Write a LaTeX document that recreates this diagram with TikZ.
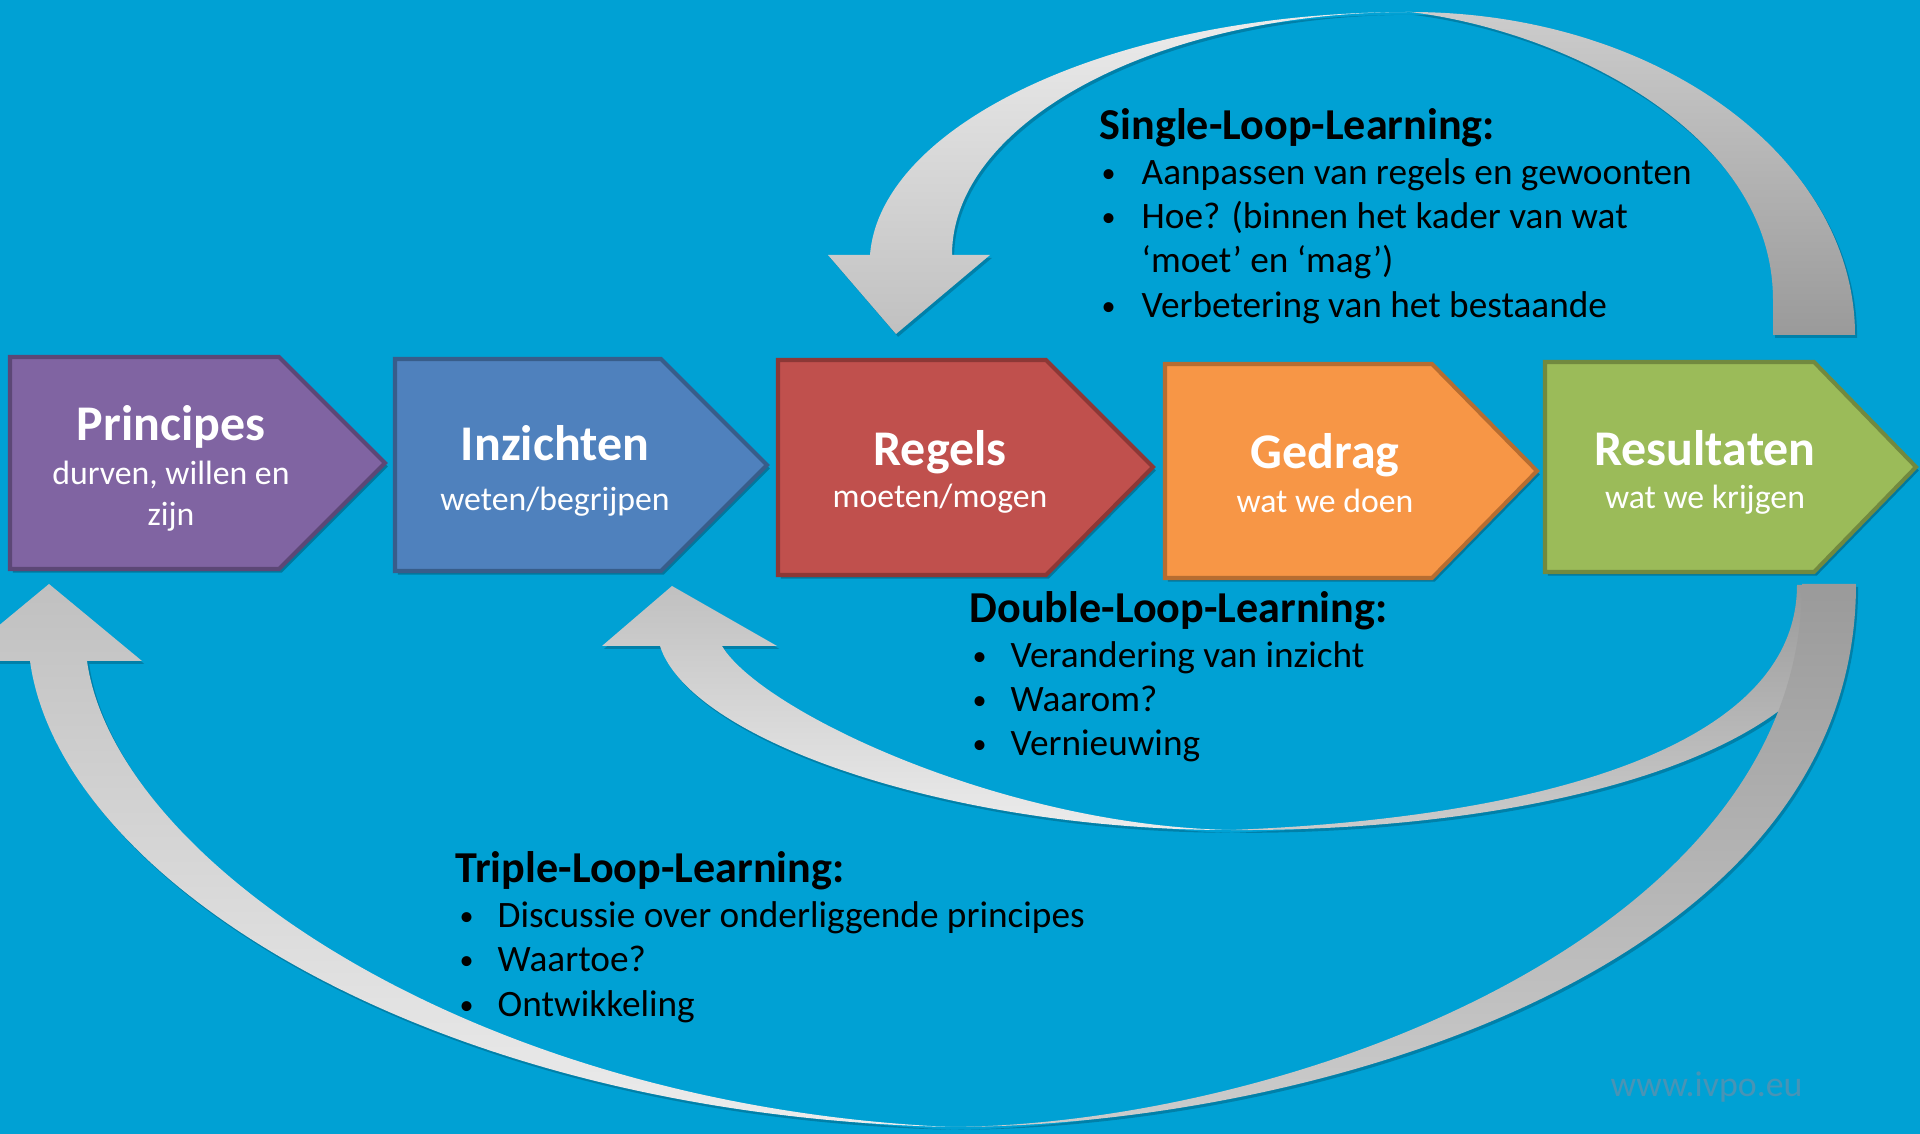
\documentclass[tikz,border=0pt]{standalone}
\usepackage{fontspec}
\setmainfont{Carlito}
\usetikzlibrary{shadows}
\definecolor{bgblue}{RGB}{0,161,212}
\definecolor{pfill}{RGB}{128,100,162}\definecolor{pline}{RGB}{92,71,118}
\definecolor{bfill}{RGB}{79,129,189}\definecolor{bline}{RGB}{56,93,138}
\definecolor{rfill}{RGB}{192,80,77}\definecolor{rline}{RGB}{140,56,54}
\definecolor{ofill}{RGB}{247,150,70}\definecolor{oline}{RGB}{182,109,49}
\definecolor{gfill}{RGB}{155,187,89}\definecolor{gline}{RGB}{113,137,63}
\definecolor{arrlight}{RGB}{236,236,236}
\definecolor{arrmid}{RGB}{192,192,192}
\definecolor{arrdarkA}{RGB}{204,204,204}
\definecolor{arrdarkB}{RGB}{154,154,154}
\definecolor{wmark}{RGB}{72,148,182}
\tikzset{
  chev/.style={line width=1.15pt, line join=miter,
    drop shadow={shadow xshift=0.8pt, shadow yshift=-1pt, opacity=0.25, fill=black}},
  ttl/.style={text=white, font=\bfseries\fontsize{14.2pt}{17pt}\selectfont, anchor=base, inner sep=0pt},
  sub/.style={text=white, font=\fontsize{9.6pt}{11.5pt}\selectfont, anchor=base, inner sep=0pt},
  lhead/.style={text=black, font=\bfseries\fontsize{12.55pt}{15pt}\selectfont, anchor=base west, inner sep=0pt},
  ltext/.style={text=black, font=\fontsize{10.6pt}{13pt}\selectfont, anchor=base west, inner sep=0pt},
  lbul/.style={text=black, font=\fontsize{8pt}{10pt}\selectfont, anchor=base west, inner sep=0pt},
  arrowpart/.style={draw=none,
    drop shadow={shadow xshift=0.6pt, shadow yshift=-0.8pt, opacity=0.2, fill=black}}
}
\newcommand{\bul}{\raisebox{0.6pt}{•}}
\begin{document}
\begin{tikzpicture}[x=0.01cm,y=-0.01cm]
\useasboundingbox (0,0) rectangle (1920,1134);
\fill[bgblue] (0,0) rectangle (1920,1134);
\begin{scope}
\clip (0,0) rectangle (1920,1134);
% Single loop (top)
\path[arrowpart, top color=arrlight, bottom color=arrmid]
  (896,334) -- (828,255) -- (870,255)
  .. controls (880,125) and (1112,12) .. (1410,12)
  .. controls (1157,12) and (952,122) .. (952,255)
  -- (990,255) -- cycle;
\path[arrowpart, top color=arrdarkA, bottom color=arrdarkB]
  (1410,12) .. controls (1656,12) and (1855,157) .. (1855,335)
  -- (1773,335) -- (1773,300)
  .. controls (1773,130) and (1560,30) .. (1410,12) -- cycle;
% Double loop
\path[arrowpart, top color=arrmid, bottom color=arrlight]
  (672,586) -- (602,646) -- (660,646)
  .. controls (690,740) and (950,830) .. (1230,830)
  .. controls (1000,825) and (760,710) .. (722,646)
  -- (777,646) -- cycle;
\path[arrowpart, top color=arrdarkB, bottom color=arrdarkA]
  (1230,830) .. controls (1500,820) and (1797,760) .. (1797,585)
  -- (1852,585)
  .. controls (1852,760) and (1520,832) .. (1230,830) -- cycle;
% Triple loop
\path[arrowpart, top color=arrmid, bottom color=arrlight]
  (49,584) -- (-44,661) -- (30,661)
  .. controls (60,880) and (430,1115) .. (950,1127)
  .. controls (470,1105) and (115,860) .. (87,661)
  -- (142,661) -- cycle;
\path[arrowpart, top color=arrdarkB, bottom color=arrdarkA]
  (950,1127) .. controls (1300,1127) and (1856,975) .. (1856,584)
  -- (1802,584)
  .. controls (1802,940) and (1280,1125) .. (950,1127) -- cycle;
\end{scope}
% Chevrons
\draw[chev, fill=pfill, draw=pline] (10,357) -- (279,357) -- (385,463) -- (279,569) -- (10,569) -- cycle;
\draw[chev, fill=bfill, draw=bline] (395,359) -- (661,359) -- (767,465) -- (661,571) -- (395,571) -- cycle;
\draw[chev, fill=rfill, draw=rline] (778,360) -- (1046,360) -- (1153,467) -- (1046,575) -- (778,575) -- cycle;
\draw[chev, fill=ofill, draw=oline] (1165,364) -- (1432,364) -- (1537,471) -- (1432,578) -- (1165,578) -- cycle;
\draw[chev, fill=gfill, draw=gline] (1545,362) -- (1814,362) -- (1916,467) -- (1814,572) -- (1545,572) -- cycle;
% Chevron texts
\node[ttl] (t1) at (171,441) {Principes};
\node[sub] (s1a) at (171,485) {durven, willen en};
\node[sub] (s1b) at (171,526) {zijn};
\node[ttl] (t2) at (555,461) {Inzichten};
\node[sub] (s2) at (555,511) {weten/begrijpen};
\node[ttl] (t3) at (940,466) {Regels};
\node[sub] (s3) at (940,508) {moeten/mogen};
\node[ttl] (t4) at (1325,469) {Gedrag};
\node[sub] (s4) at (1325,513) {wat we doen};
\node[ttl] (t5) at (1705,466) {Resultaten};
\node[sub] (s5) at (1705,509) {wat we krijgen};
% Single loop text
\node[lhead] (sh) at (1099,140) {Single-Loop-Learning:};
\node[lbul] (sb1) at (1101,185) {\bul};
\node[ltext] (st1) at (1141,185) {Aanpassen van regels en gewoonten};
\node[lbul] (sb2) at (1101,229) {\bul};
\node[ltext] (st2) at (1141,229) {Hoe? (binnen het kader van wat};
\node[ltext] (st2b) at (1141,273) {‘moet’ en ‘mag’)};
\node[lbul] (sb3) at (1101,318) {\bul};
\node[ltext] (st3) at (1141,318) {Verbetering van het bestaande};
% Double loop text
\node[lhead] (dh) at (969,623) {Double-Loop-Learning:};
\node[lbul] (db1) at (972,668) {\bul};
\node[ltext] (dt1) at (1010,668) {Verandering van inzicht};
\node[lbul] (db2) at (972,712) {\bul};
\node[ltext] (dt2) at (1010,712) {Waarom?};
\node[lbul] (db3) at (972,756) {\bul};
\node[ltext] (dt3) at (1010,756) {Vernieuwing};
% Triple loop text
\node[lhead] (th) at (455,883) {Triple-Loop-Learning:};
\node[lbul] (tb1) at (459,928) {\bul};
\node[ltext] (tt1) at (497,928) {Discussie over onderliggende principes};
\node[lbul] (tb2) at (459,972) {\bul};
\node[ltext] (tt2) at (497,972) {Waartoe?};
\node[lbul] (tb3) at (459,1017) {\bul};
\node[ltext] (tt3) at (497,1017) {Ontwikkeling};
% Watermark
\node[text=wmark, font=\fontsize{10.2pt}{12pt}\selectfont, anchor=base west, inner sep=0pt] (wm) at (1610,1097) {www.ivpo.eu};
\end{tikzpicture}
\end{document}
